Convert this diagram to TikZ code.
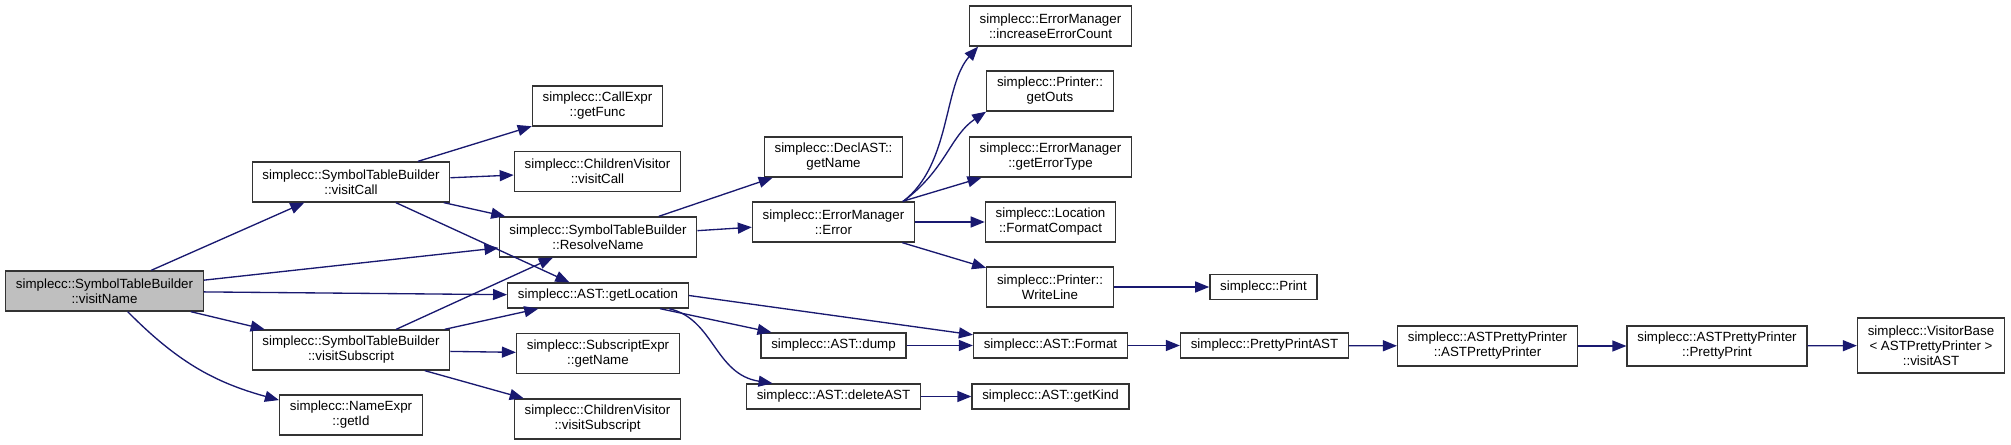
\documentclass[tikz,border=0pt]{standalone}
\usepackage{fontspec}
\setmainfont{Liberation Sans}
\usepackage{xcolor}
\usetikzlibrary{arrows.meta}

\begin{document}
\begin{tikzpicture}[x=0.75pt,y=-0.75pt,
  fnbox/.style={draw=black!80, line width=1pt, fill=white, align=center,
    inner xsep=7.7pt, inner ysep=1pt, minimum height=30pt,
    font=\fontsize{10}{11.25}\selectfont},
  fnone/.style={fnbox, minimum height=18.75pt},
  fnthree/.style={fnbox, minimum height=41.25pt},
  callarrow/.style={draw=callblue, line width=1pt,
    -{Triangle[length=10.5pt,width=8.25pt]}}]
\definecolor{callblue}{HTML}{191970}
\definecolor{focusgrey}{HTML}{BFBFBF}

\useasboundingbox (0,0) rectangle (2011,445);

\node[fnbox, fill=focusgrey] (visitName) at (104.5,291) {simplecc::SymbolTableBuilder\\::visitName};

\node[fnbox] (visitCall) at (351,182) {simplecc::SymbolTableBuilder\\::visitCall};
\node[fnbox] (visitSubscript) at (351,350) {simplecc::SymbolTableBuilder\\::visitSubscript};
\node[fnbox] (getId) at (351,415) {simplecc::NameExpr\\::getId};

\node[fnbox] (getFunc) at (597.5,106) {simplecc::CallExpr\\::getFunc};
\node[fnbox] (cvCall) at (597.5,171.5) {simplecc::ChildrenVisitor\\::visitCall};
\node[fnbox] (resolveName) at (598,237) {simplecc::SymbolTableBuilder\\::ResolveName};
\node[fnone] (getLocation) at (598,295.5) {simplecc::AST::getLocation};
\node[fnbox] (subGetName) at (598,353.5) {simplecc::SubscriptExpr\\::getName};
\node[fnbox] (cvSubscript) at (597.5,419) {simplecc::ChildrenVisitor\\::visitSubscript};

\node[fnbox] (declGetName) at (833.5,157) {simplecc::DeclAST::\\getName};
\node[fnbox] (errorFn) at (833.5,222) {simplecc::ErrorManager\\::Error};
\node[fnone] (dump) at (833.5,345.5) {simplecc::AST::dump};
\node[fnone] (deleteAST) at (833.5,396.5) {simplecc::AST::deleteAST};

\node[fnbox] (incErrCount) at (1050.5,26) {simplecc::ErrorManager\\::increaseErrorCount};
\node[fnbox] (getOuts) at (1050,91) {simplecc::Printer::\\getOuts};
\node[fnbox] (getErrType) at (1050.5,157) {simplecc::ErrorManager\\::getErrorType};
\node[fnbox] (fmtCompact) at (1050.5,222) {simplecc::Location\\::FormatCompact};
\node[fnbox] (writeLine) at (1050,287) {simplecc::Printer::\\WriteLine};
\node[fnone] (format) at (1050.5,345.5) {simplecc::AST::Format};
\node[fnone] (getKind) at (1050.5,396.5) {simplecc::AST::getKind};

\node[fnone] (printFn) at (1263.5,287) {simplecc::Print};
\node[fnone] (prettyAST) at (1264.5,345.5) {simplecc::PrettyPrintAST};
\node[fnbox] (astPrinter) at (1487.5,346) {simplecc::ASTPrettyPrinter\\::ASTPrettyPrinter};
\node[fnbox] (prettyPrint) at (1717,346) {simplecc::ASTPrettyPrinter\\::PrettyPrint};
\node[fnthree] (visitAST) at (1931,345.5) {simplecc::VisitorBase\\< ASTPrettyPrinter >\\::visitAST};

\foreach \from/\to in {visitName/visitCall, visitName/resolveName,
    visitName/getLocation, visitName/visitSubscript,
    visitCall/getFunc, visitCall/cvCall, visitCall/resolveName,
    visitCall/getLocation, visitSubscript/resolveName,
    visitSubscript/getLocation, visitSubscript/subGetName,
    visitSubscript/cvSubscript, resolveName/declGetName,
    resolveName/errorFn, getLocation/dump, errorFn/getErrType,
    errorFn/fmtCompact, errorFn/writeLine, writeLine/printFn,
    dump/format, deleteAST/getKind, format/prettyAST,
    prettyAST/astPrinter, astPrinter/prettyPrint, prettyPrint/visitAST} {
  \draw[callarrow] (\from) -- (\to);
}

\draw[callarrow] (visitName) to[bend right=15] (getId);
\draw[callarrow] (getLocation.east) -- (format);
\draw[callarrow] ([xshift=-15pt]getLocation.south east)
  .. controls +(45,10) and +(-58,-9) .. ([xshift=20pt]deleteAST.north west);
\draw[callarrow] ([xshift=-9pt]errorFn.north east)
  .. controls +(48,-37) and +(-35,39) .. ([xshift=7pt]incErrCount.south west);
\draw[callarrow] ([xshift=-9pt]errorFn.north east)
  .. controls +(43,-32) and +(-36,24) .. (getOuts.south west);
\end{tikzpicture}
\end{document}
